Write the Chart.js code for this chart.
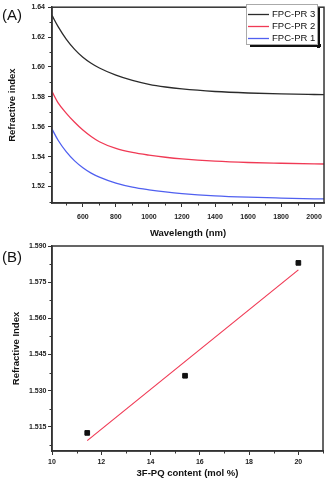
<!DOCTYPE html>
<html>
<head>
<meta charset="utf-8">
<script src="https://cdn.jsdelivr.net/npm/chart.js@4.4.1/dist/chart.umd.min.js"></script>
<style>
  body { margin: 0; background: #fff; width: 328px; height: 483px; position: relative; overflow: hidden; }
  canvas { position: absolute; left: 0; }
  #chartA { top: 0; }
  #chartB { top: 240px; }
  .panel { position: absolute; left: 2px; font: 15px "Liberation Sans", Arial, sans-serif; color: #111; }
</style>
</head>
<body>
<canvas id="chartA" width="328" height="240"></canvas>
<canvas id="chartB" width="328" height="243"></canvas>
<div class="panel" style="top:6px">(A)</div>
<div class="panel" style="top:248px">(B)</div>
<script>
// ===== DADOS (A) =====
const wavelengths = [413, 450, 500, 550, 600, 650, 700, 800, 900, 1000, 1100, 1200, 1400, 1600, 1800, 2000, 2060];
const pr3 = [1.6345, 1.6270, 1.6185, 1.6118, 1.6065, 1.6025, 1.5993, 1.5945, 1.5910, 1.5884, 1.5866, 1.5853, 1.5836, 1.5826, 1.5820, 1.5816, 1.5815];
const pr2 = [1.5835, 1.5760, 1.5690, 1.5630, 1.5578, 1.5535, 1.5500, 1.5455, 1.5428, 1.5410, 1.5396, 1.5385, 1.5370, 1.5361, 1.5356, 1.5352, 1.5351];
const pr1 = [1.5585, 1.5510, 1.5432, 1.5372, 1.5326, 1.5290, 1.5263, 1.5223, 1.5196, 1.5178, 1.5164, 1.5153, 1.5138, 1.5129, 1.5123, 1.5118, 1.5117];
const seriesNames = ['FPC-PR 3', 'FPC-PR 2', 'FPC-PR 1'];
const xTicksA = [600, 800, 1000, 1200, 1400, 1600, 1800, 2000];
const xMinorA = [500, 700, 900, 1100, 1300, 1500, 1700, 1900];
const yTicksA = [1.52, 1.54, 1.56, 1.58, 1.60, 1.62, 1.64];
const yMinorA = [1.51, 1.53, 1.55, 1.57, 1.59, 1.61, 1.63];

// ===== DADOS (B) =====
const content = [11.43, 15.4, 20];
const measured = [1.5125, 1.5362, 1.583];
const fitX = [11.43, 20];
const fitY = [1.5093, 1.5801];
const xTicksB = [10, 12, 14, 16, 18, 20];
const xMinorB = [11, 13, 15, 17, 19, 21];
const yTicksB = [1.515, 1.530, 1.545, 1.560, 1.575, 1.590];
const yMinorB = [1.5075, 1.5225, 1.5375, 1.5525, 1.5675, 1.5825];

const FONT = '"Liberation Sans", Arial, sans-serif';
const tickFont = { family: FONT, size: 7, weight: 'bold' };
const titleFont = { family: FONT, size: 9.5, weight: 'bold' };

// moldura, ticks menores e legenda
const decor = {
  id: 'decor',
  afterDraw(chart, args, opts) {
    const { ctx, chartArea: a, scales } = chart;
    ctx.save();
    ctx.strokeStyle = '#333';
    ctx.lineWidth = 1;
    opts.minorX.forEach(v => {
      const x = Math.round(scales.x.getPixelForValue(v)) + 0.5;
      ctx.beginPath(); ctx.moveTo(x, a.bottom); ctx.lineTo(x, a.bottom + 2.5); ctx.stroke();
    });
    opts.minorY.forEach(v => {
      const y = Math.round(scales.y.getPixelForValue(v)) + 0.5;
      ctx.beginPath(); ctx.moveTo(a.left, y); ctx.lineTo(a.left - 2.5, y); ctx.stroke();
    });
    ctx.lineWidth = 1.5;
    ctx.strokeRect(a.left, a.top, a.right - a.left, a.bottom - a.top);

    const lg = opts.legend;
    if (lg) {
      ctx.fillStyle = '#111';
      ctx.fillRect(lg.x + 4, lg.y + lg.h, lg.w, 3);
      ctx.fillRect(lg.x + lg.w, lg.y + 4, 3, lg.h);
      ctx.fillStyle = '#fff';
      ctx.fillRect(lg.x, lg.y, lg.w, lg.h);
      ctx.strokeStyle = '#aaa';
      ctx.lineWidth = 1;
      ctx.strokeRect(lg.x + 0.5, lg.y + 0.5, lg.w, lg.h);
      ctx.font = '9.5px ' + FONT;
      ctx.textBaseline = 'middle';
      chart.data.datasets.forEach((ds, i) => {
        const y = lg.y + 10.5 + i * 12;
        ctx.strokeStyle = ds.borderColor;
        ctx.lineWidth = 1.3;
        ctx.beginPath(); ctx.moveTo(lg.x + 2, y); ctx.lineTo(lg.x + 23, y); ctx.stroke();
        ctx.fillStyle = '#111';
        ctx.fillText(ds.label, lg.x + 26, y);
      });
    }
    ctx.restore();
  }
};

function axis(min, max, ticksArr, fmt, title, opts) {
  return {
    type: 'linear', min, max,
    afterBuildTicks: s => { s.ticks = ticksArr.map(v => ({ value: v })); },
    afterFit: s => { if (opts.width) s.width = opts.width; if (opts.height) s.height = opts.height; },
    border: { color: '#333', width: 1.5 },
    grid: { drawOnChartArea: false, tickLength: 4, color: '#333', lineWidth: 1 },
    ticks: { font: tickFont, color: '#222', padding: opts.pad, maxRotation: 0, autoSkip: false, callback: v => fmt(v) },
    title: { display: true, text: title, font: titleFont, color: '#111', padding: opts.titlePad }
  };
}

// ===== GRÁFICO A =====
const colors = ['#2b2b2b', '#f03a55', '#5060f0'];
new Chart(document.getElementById('chartA'), {
  type: 'line',
  data: {
    datasets: [pr3, pr2, pr1].map((vals, i) => ({
      label: seriesNames[i],
      data: wavelengths.map((w, j) => ({ x: w, y: vals[j] })),
      borderColor: colors[i],
      borderWidth: 1.3,
      pointRadius: 0,
      cubicInterpolationMode: 'monotone'
    }))
  },
  options: {
    responsive: false,
    animation: false,
    layout: { padding: { top: 5, right: 3, left: 0, bottom: 0 } },
    plugins: {
      legend: { display: false },
      tooltip: { enabled: false },
      decor: { minorX: xMinorA, minorY: yMinorA, legend: { x: 246, y: 4, w: 71, h: 40 } }
    },
    scales: {
      x: axis(413, 2060, xTicksA, v => String(v), 'Wavelength (nm)', { height: 37, pad: 6, titlePad: { top: 2, bottom: 1 } }),
      y: axis(1.509, 1.64, yTicksA, v => v.toFixed(2), 'Refractive index', { width: 52, pad: 3, titlePad: { top: 6.5, bottom: 2 } })
    }
  },
  plugins: [decor]
});

// ===== GRÁFICO B =====
new Chart(document.getElementById('chartB'), {
  type: 'scatter',
  data: {
    datasets: [
      {
        label: 'Refractive Index',
        data: content.map((c, i) => ({ x: c, y: measured[i] })),
        pointStyle: 'rect',
        pointRadius: 3.3,
        backgroundColor: '#111',
        borderColor: '#111',
        borderWidth: 1
      },
      {
        label: 'Linear fit',
        data: fitX.map((x, i) => ({ x, y: fitY[i] })),
        showLine: true,
        pointRadius: 0,
        borderColor: '#f03a55',
        borderWidth: 1.2
      }
    ]
  },
  options: {
    responsive: false,
    animation: false,
    layout: { padding: { top: 6, right: 2, left: 0, bottom: 0 } },
    plugins: {
      legend: { display: false },
      tooltip: { enabled: false },
      decor: { minorX: xMinorB, minorY: yMinorB }
    },
    scales: {
      x: axis(10, 21, xTicksB, v => String(v), '3F-PQ content (mol %)', { height: 32, pad: 3, titlePad: { top: 2, bottom: 3.5 } }),
      y: axis(1.505, 1.59, yTicksB, v => v.toFixed(3), 'Refractive Index', { width: 52, pad: 1.5, titlePad: { top: 11, bottom: 2 } })
    }
  },
  plugins: [decor]
});
</script>
</body>
</html>
